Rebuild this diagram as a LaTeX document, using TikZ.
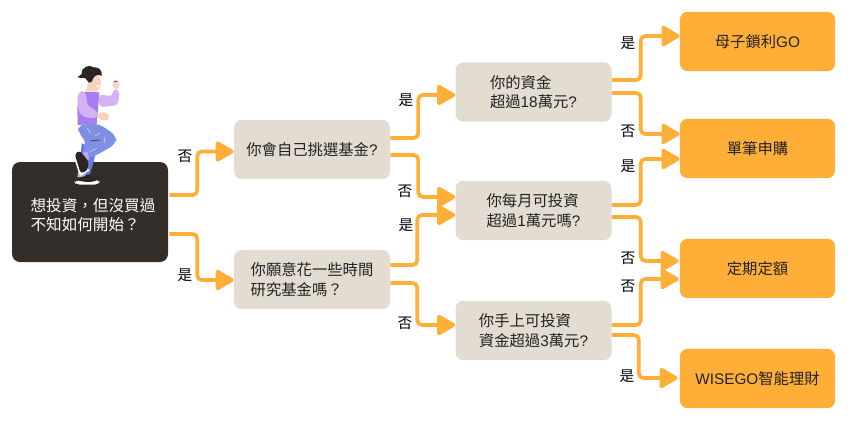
\documentclass[tikz,border=0pt]{standalone}
\usepackage{fontspec}
\setmainfont{Noto Sans CJK TC}
\newfontfamily\lat{Liberation Sans}
\usetikzlibrary{arrows.meta}
\definecolor{darkbox}{HTML}{332E2A}
\definecolor{sandbox}{HTML}{E3DCD0}
\definecolor{orangebox}{HTML}{FFAF37}
\definecolor{lilac}{HTML}{D4B2F4}
\definecolor{vest}{HTML}{A67EF2}
\definecolor{jeans}{HTML}{7E8FE4}
\definecolor{jeansb}{HTML}{6A78E2}
\definecolor{skin}{HTML}{F8D2C0}
\definecolor{hair}{HTML}{2B2523}
\definecolor{ink}{HTML}{222222}
\tikzset{
 box/.style={rounded corners=6pt,align=left,inner sep=0pt,minimum height=44.6pt,font=\fontsize{11.5}{14.6}\selectfont},
 startbox/.style={box,fill=darkbox,text=white,minimum width=117pt,minimum height=75pt,font=\fontsize{11.7}{14}\selectfont},
 askbox/.style={box,fill=sandbox,text=ink,minimum width=117pt},
 endbox/.style={box,fill=orangebox,text=ink,minimum width=116.5pt},
 conn/.style={draw=orangebox,line width=2.8pt,rounded corners=3.5pt,-{Triangle[length=15pt,width=16.5pt,round]}},
 lab/.style={font=\fontsize{11}{12}\selectfont,text=black,inner sep=0pt},
 fleck/.style={draw=white!75!jeans,line width=.35pt}
}
\begin{document}
\begin{tikzpicture}[x=.75pt,y=-.75pt]
\useasboundingbox (0,0) rectangle (865,433);
\node[startbox] (s) at (90,212) {\rule{0pt}{14pt}\hspace*{4.5pt}想投資，但沒買過\\\hspace*{4.5pt}不知如何開始？};
\node[askbox] (a) at (312,149.5) {你會自己挑選基金{\lat ?}};
\node[askbox] (b) at (312,279.5) {你願意花一些時間\\研究基金嗎？};
\node[askbox] (c) at (533.5,92) {你的資金\\超過{\lat 18}萬元{\lat ?}};
\node[askbox] (d) at (533.5,210.5) {你每月可投資\\超過{\lat 1}萬元嗎{\lat ?}};
\node[askbox] (e) at (533.5,330.5) {你手上可投資\\資金超過{\lat 3}萬元{\lat ?}};
\node[endbox] (f) at (757.5,41.5) {母子鎖利{\lat GO}};
\node[endbox] (g) at (757.5,148.5) {單筆申購};
\node[endbox] (h) at (757.5,268.5) {定期定額};
\node[endbox] (i) at (757.5,378.5) {{\lat WISEGO}智能理財};
% connectors
\draw[conn] ([shift={(1,-17)}]s.east) -- ++(28,0) |- ([shift={(0,2)}]a.west);
\draw[conn] ([shift={(1,22)}]s.east) -- ++(28,0) |- ([shift={(0,0.5)}]b.west);
\draw[conn] ([shift={(0,-11.5)}]a.east) -- ++(28,0) |- ([shift={(0,3)}]c.west);
\draw[conn] ([shift={(0,5.5)}]a.east) -- ++(28,0) |- ([shift={(0,-13.5)}]d.west);
\draw[conn] ([shift={(0,-14.5)}]b.east) -- ++(27,0) |- ([shift={(0,4.5)}]d.west);
\draw[conn] ([shift={(0,3.5)}]b.east) -- ++(27,0) |- ([shift={(0,-5.5)}]e.west);
\draw[conn] ([shift={(0,-12)}]c.east) -- ++(29,0) |- ([shift={(0,-5.5)}]f.west);
\draw[conn] ([shift={(0,1)}]c.east) -- ++(29,0) |- ([shift={(0,-14.5)}]g.west);
\draw[conn] ([shift={(0,-5.5)}]d.east) -- ++(29,0) |- ([shift={(0,10.5)}]g.west);
\draw[conn] ([shift={(0,6.5)}]d.east) -- ++(29,0) |- ([shift={(-1,-7.5)}]h.west);
\draw[conn] ([shift={(0,-5.5)}]e.east) -- ++(29,0) |- ([shift={(-1,10.5)}]h.west);
\draw[conn] ([shift={(0,4.5)}]e.east) -- ++(27,0) |- ([shift={(-2,-0.5)}]i.west);
% labels
\node[lab] (l1) at (185,156) {否};
\node[lab] (l2) at (185,275) {是};
\node[lab] (l3) at (406,100) {是};
\node[lab] (l4) at (405,191) {否};
\node[lab] (l5) at (406,225) {是};
\node[lab] (l6) at (405,323) {否};
\node[lab] (l7) at (628,43) {是};
\node[lab] (l8) at (628,131) {否};
\node[lab] (l9) at (628,166) {是};
\node[lab] (l10) at (628,258) {否};
\node[lab] (l11) at (628,286) {否};
\node[lab] (l12) at (627,376) {是};
% figure (drawn in zoomed coordinates)
\begin{scope}[shift={(0,50)},x=.25pt,y=-.25pt]
\fill[jeansb] (245,280) -- (290,300) -- (282,330) -- (270,372) -- (235,380) -- (240,340) -- cycle;
\fill[jeans,rounded corners=5pt] (233,225) -- (295,220) -- (350,258) -- (348,282) -- (290,315) -- (262,328) -- (245,300) -- (262,280) -- (236,250) -- cycle;
\draw[fleck] (262,235) -- (272,250) (300,250) -- (285,258) (315,260) -- (312,278) (290,295) -- (270,305);
\draw[hair,line width=.4pt] (272,272) -- (300,270);
\fill[lilac!70!jeans] (243,310) -- (262,305) -- (268,328) -- (250,335) -- cycle;
\fill[lilac!70!jeans] (235,360) -- (258,362) -- (255,382) -- (232,382) -- cycle;
\fill[vest] (255,125) -- (298,127) -- (294,180) -- (290,222) -- (233,225) -- (232,170) -- cycle;
\fill[lilac,rounded corners=4pt] (233,124) -- (258,122) -- (262,170) -- (295,182) -- (292,207) -- (245,200) -- (233,175) -- cycle;
\fill[skin,rounded corners=3pt] (292,186) -- (325,188) -- (330,205) -- (315,214) -- (292,205) -- cycle;
\fill[lilac,rounded corners=3pt] (297,132) -- (338,140) -- (338,118) -- (358,118) -- (355,165) -- (298,172) -- cycle;
\fill[skin,rounded corners=3pt] (336,90) -- (358,86) -- (358,118) -- (340,118) -- cycle;
\fill[jeans!60!black] (342,93) rectangle (352,97);
\fill[skin] (258,122) -- (290,127) -- (285,105) -- (264,100) -- cycle;
\fill[skin] (285,98) ellipse [x radius=18,y radius=26];
\fill[white] (287,108) -- (298,105) -- (295,113) -- cycle;
\fill[hair] (232,82) -- (245,72) .. controls (243,50) and (270,42) .. (280,52) .. controls (295,50) and (308,60) .. (305,78) .. controls (296,72) and (286,74) .. (280,84) .. controls (276,96) and (272,100) .. (266,98) .. controls (260,88) and (255,80) .. (245,84) -- cycle;
\fill[white] (218,312) -- (232,300) -- (268,362) -- (240,378) -- cycle;
\fill[hair,rounded corners=2pt] (224,312) -- (240,302) -- (266,335) -- (262,362) -- (242,370) -- cycle;
\fill[white,rounded corners=3pt] (222,392) -- (300,390) -- (296,404) -- (228,404) -- cycle;
\fill[hair,rounded corners=3pt] (226,390) -- (250,378) -- (280,376) -- (296,392) -- (262,397) -- cycle;
\end{scope}
\end{tikzpicture}
\end{document}
